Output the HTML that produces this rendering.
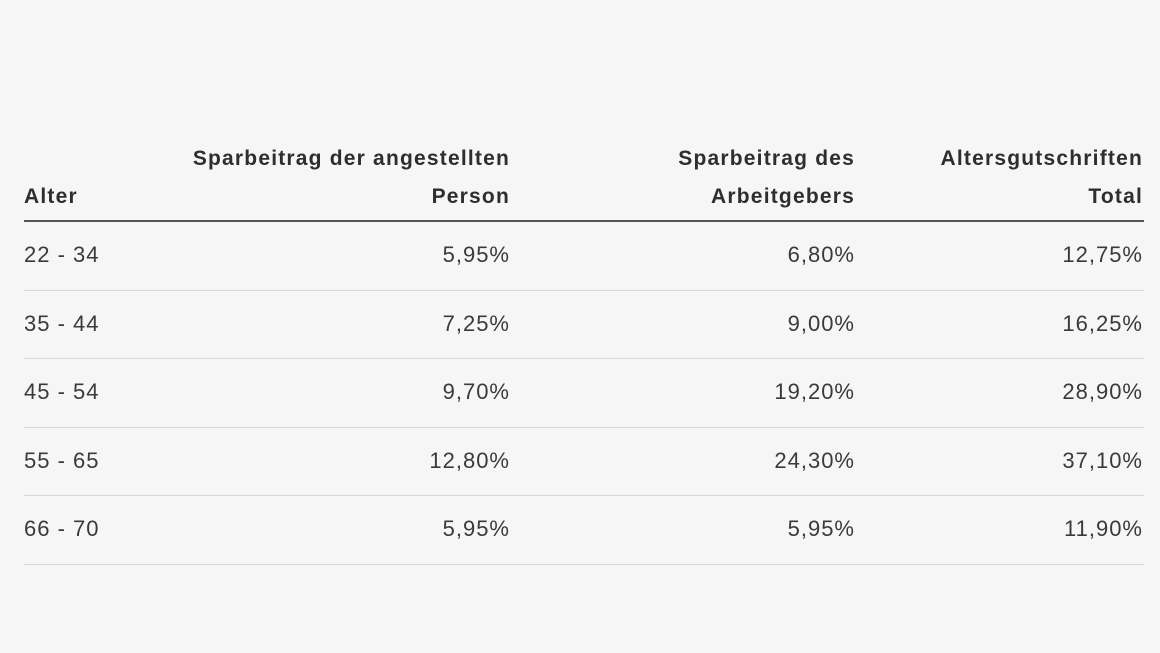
<!DOCTYPE html>
<html><head><meta charset="utf-8"><style>
html,body{margin:0;padding:0;width:1160px;height:653px;background:#f7f6f6;overflow:hidden;font-family:"Liberation Sans",sans-serif;color:#333;}
.t{position:absolute;white-space:nowrap;line-height:1;}
.h{font-weight:bold;font-size:21px;letter-spacing:1.2px;color:#2e2e2e;}
.r{font-size:22px;letter-spacing:1px;color:#3a3a3a;}
.R{text-align:right;}
.line{position:absolute;left:24px;width:1120px;height:1px;background:#d9d8d8;}
</style></head><body>
<div class="t h" style="left:24px;top:186px">Alter</div>
<div class="t h R" style="right:650px;top:148px">Sparbeitrag der angestellten</div>
<div class="t h R" style="right:650px;top:186px">Person</div>
<div class="t h R" style="right:305px;top:148px">Sparbeitrag des</div>
<div class="t h R" style="right:305px;top:186px">Arbeitgebers</div>
<div class="t h R" style="right:17px;top:148px">Altersgutschriften</div>
<div class="t h R" style="right:17px;top:186px">Total</div>
<div class="line" style="top:220px;height:1.5px;background:#555"></div>

<div class="t r" style="left:24px;top:244px">22 - 34</div>
<div class="t r R" style="right:650px;top:244px">5,95%</div>
<div class="t r R" style="right:305px;top:244px">6,80%</div>
<div class="t r R" style="right:17px;top:244px">12,75%</div>
<div class="line" style="top:290px"></div>

<div class="t r" style="left:24px;top:313px">35 - 44</div>
<div class="t r R" style="right:650px;top:313px">7,25%</div>
<div class="t r R" style="right:305px;top:313px">9,00%</div>
<div class="t r R" style="right:17px;top:313px">16,25%</div>
<div class="line" style="top:358px"></div>

<div class="t r" style="left:24px;top:381px">45 - 54</div>
<div class="t r R" style="right:650px;top:381px">9,70%</div>
<div class="t r R" style="right:305px;top:381px">19,20%</div>
<div class="t r R" style="right:17px;top:381px">28,90%</div>
<div class="line" style="top:427px"></div>

<div class="t r" style="left:24px;top:450px">55 - 65</div>
<div class="t r R" style="right:650px;top:450px">12,80%</div>
<div class="t r R" style="right:305px;top:450px">24,30%</div>
<div class="t r R" style="right:17px;top:450px">37,10%</div>
<div class="line" style="top:495px"></div>

<div class="t r" style="left:24px;top:518px">66 - 70</div>
<div class="t r R" style="right:650px;top:518px">5,95%</div>
<div class="t r R" style="right:305px;top:518px">5,95%</div>
<div class="t r R" style="right:17px;top:518px">11,90%</div>
<div class="line" style="top:564px"></div>
</body></html>
